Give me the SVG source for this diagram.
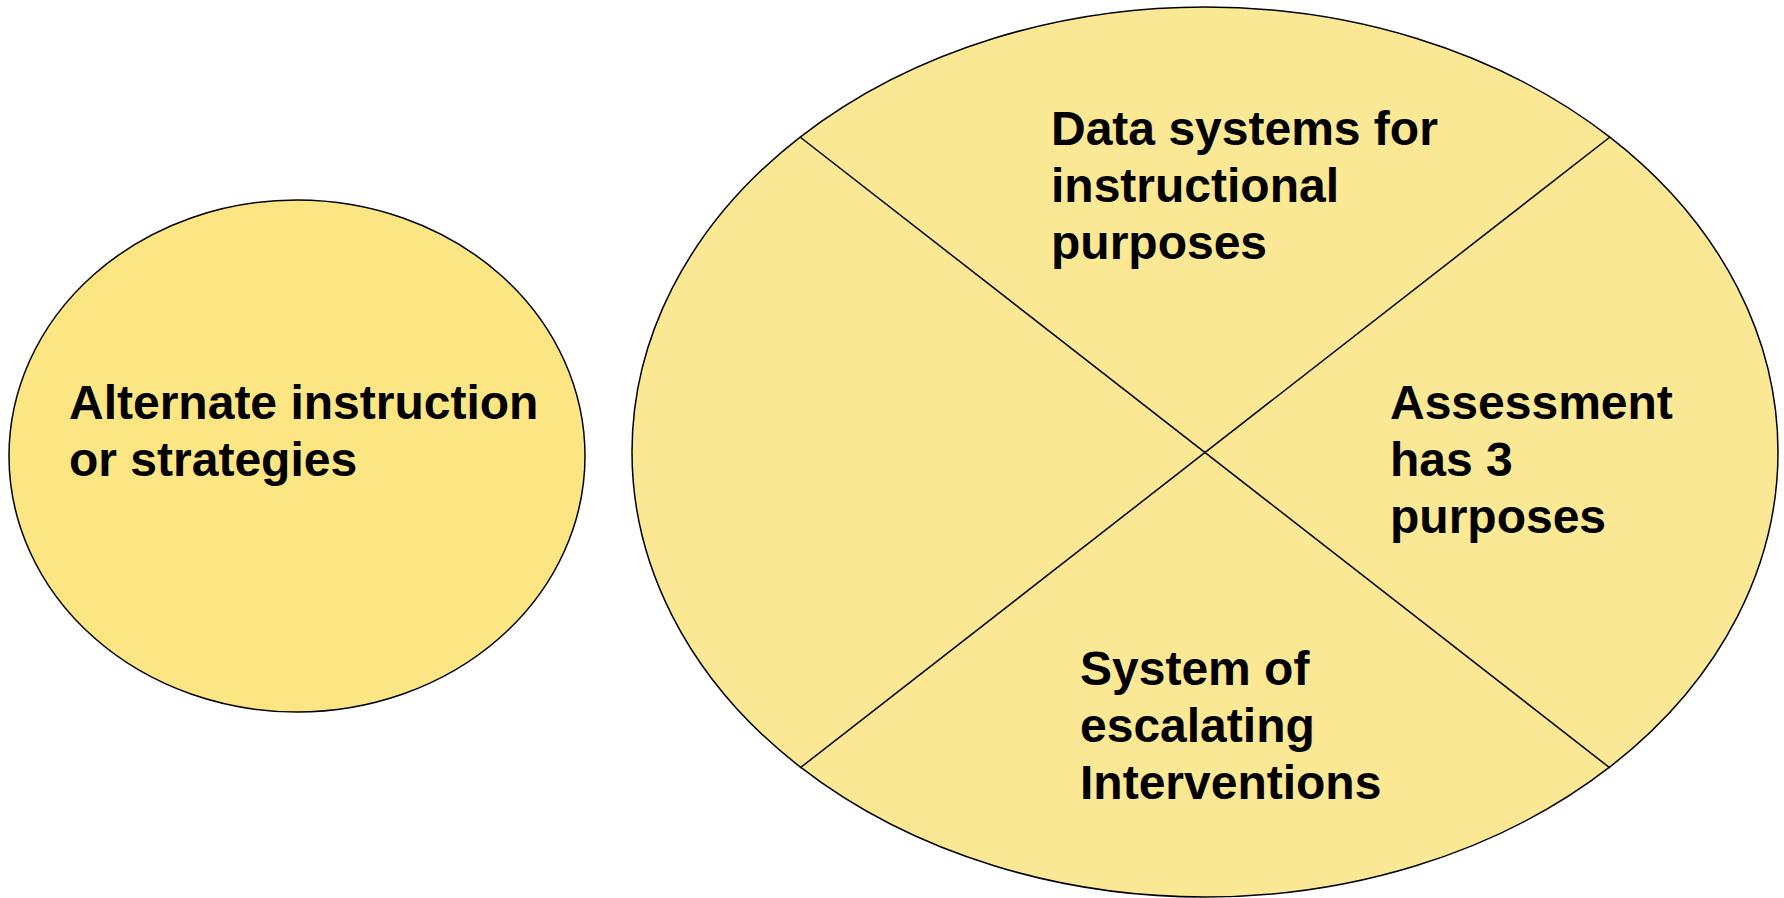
<svg xmlns="http://www.w3.org/2000/svg" width="1784" height="898" viewBox="0 0 1784 898">
<style>
.lbl{font-family:"Liberation Sans",Arial,sans-serif;font-weight:bold;font-size:48px;fill:#000}
.ell{stroke:#000;stroke-width:1.5}
.div{stroke:#000;stroke-width:1.5;fill:none}
</style>
<rect width="1784" height="898" fill="#fff"/>
<g id="node-alternate">
<ellipse class="ell" cx="297" cy="456" rx="288" ry="256" fill="#FCE583"/>
<text class="lbl" x="69" y="419">Alternate instruction</text>
<text class="lbl" x="69" y="476">or strategies</text>
</g>
<g id="node-assessment-circle">
<ellipse class="ell" cx="1205" cy="452" rx="573" ry="445" fill="#FAE894"/>
</g>
<g id="connectors">
<line class="div" x1="800" y1="137" x2="1610" y2="768"/>
<line class="div" x1="1610" y1="137" x2="800" y2="768"/>
</g>
<g id="node-data">
<text class="lbl" x="1051" y="145">Data systems for</text>
<text class="lbl" x="1051" y="202">instructional</text>
<text class="lbl" x="1051" y="259">purposes</text>
</g>
<g id="node-assess">
<text class="lbl" x="1390" y="419">Assessment</text>
<text class="lbl" x="1390" y="476">has 3</text>
<text class="lbl" x="1390" y="533">purposes</text>
</g>
<g id="node-system">
<text class="lbl" x="1080" y="685">System of</text>
<text class="lbl" x="1080" y="742">escalating</text>
<text class="lbl" x="1080" y="799">Interventions</text>
</g>
</svg>
